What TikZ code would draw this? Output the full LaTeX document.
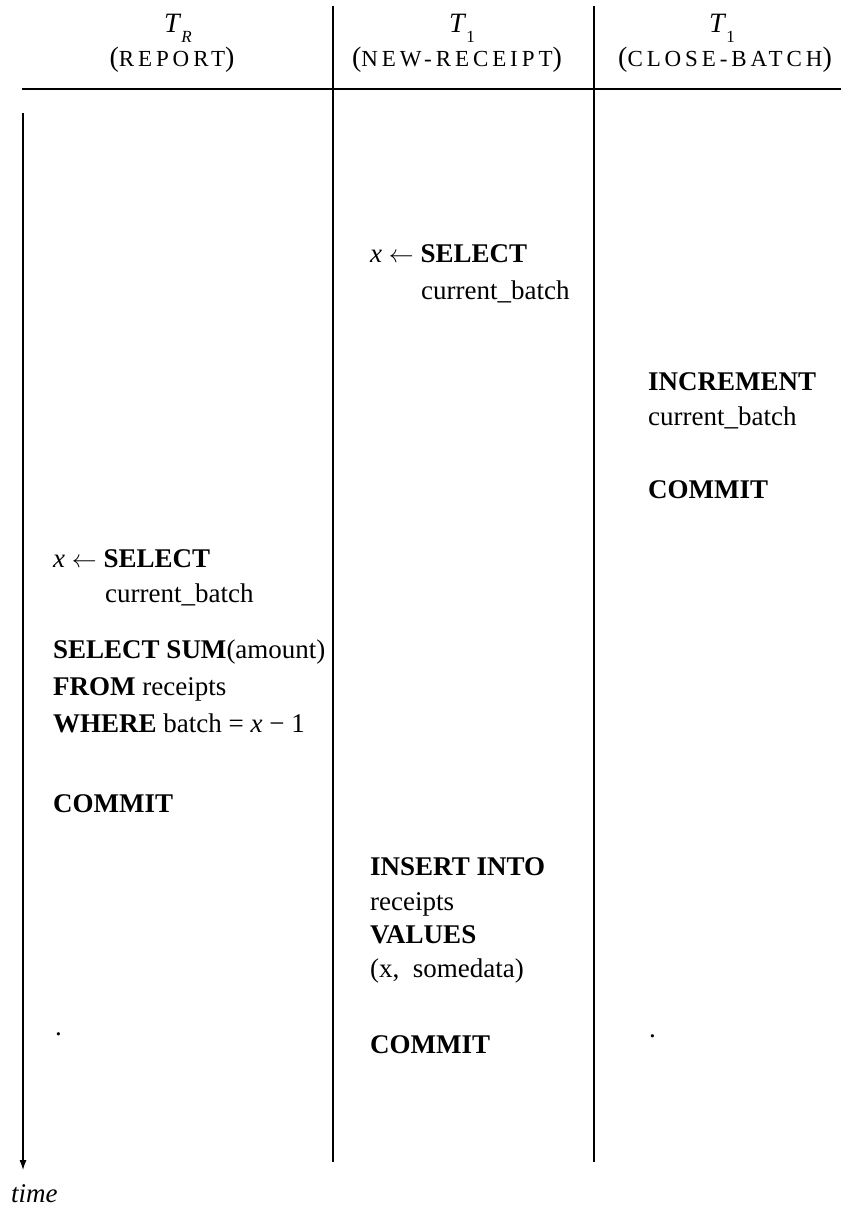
\documentclass[tikz,border=0pt]{standalone}
\usepackage{fontspec}
\setmainfont{Liberation Serif}
\usetikzlibrary{arrows.meta}
\newfontfamily\scfont[LetterSpace=17]{Liberation Serif}
\newcommand\fsc[1]{{\fontsize{23}{23}\scfont #1}}
\newcommand\kw[1]{\textbf{#1}}
\newcommand\getsarrow{\ensuremath{\leftarrow}}
\begin{document}
\begin{tikzpicture}[x=1pt,y=-1pt,
  txt/.style={anchor=base west,inner sep=0pt,font=\fontsize{27}{34}\selectfont},
  hdr/.style={anchor=base,inner sep=0pt,font=\fontsize{28}{34}\selectfont},
  rulel/.style={line width=1.1pt}]
\useasboundingbox (0,0) rectangle (841,1214);
% frame lines
\coordinate (r0) at (22,89);
\coordinate (r1) at (841,89);
\coordinate (s1t) at (333,6);
\coordinate (s1b) at (333,1162);
\coordinate (s2t) at (594,6);
\coordinate (s2b) at (594,1162);
\coordinate (tt) at (23,113);
\coordinate (tb) at (23,1170);
\draw[rulel] (r0) -- (r1);
\draw[rulel] (s1t) -- (s1b);
\draw[rulel] (s2t) -- (s2b);
\draw[rulel,-{Latex[length=10pt,width=7pt]}] (tt) -- (tb);
\node[txt,font=\fontsize{27}{34}\selectfont\itshape] (time) at (11,1202) {time};
% header
\node[hdr] (h1a) at (178,33) {\textit{T}\raisebox{-10pt}{\fontsize{17}{17}\selectfont\textit{R}}};
\node[hdr] (h1b) at (172,67) {(\fsc{REPORT})};
\node[hdr] (h2a) at (462,33) {\textit{T}\raisebox{-10pt}{\fontsize{17}{17}\selectfont 1}};
\node[hdr] (h2b) at (457,67) {(\fsc{NEW-RECEIPT})};
\node[hdr] (h3a) at (722,33) {\textit{T}\raisebox{-10pt}{\fontsize{17}{17}\selectfont 1}};
\node[hdr] (h3b) at (725,67) {(\fsc{CLOSE-BATCH})};
% column 2 (new-receipt), first part
\node[txt] (b1) at (370,263) {\textit{x} \getsarrow\ \kw{SELECT}};
\node[txt] (b2) at (421,300) {current\_batch};
% column 3 (close-batch)
\node[txt] (c1) at (648,390) {\kw{INCREMENT}};
\node[txt] (c2) at (648,425) {current\_batch};
\node[txt] (c3) at (648,498) {\kw{COMMIT}};
% column 1 (report)
\node[txt] (a1) at (53,567) {\textit{x} \getsarrow\ \kw{SELECT}};
\node[txt] (a2) at (105,602) {current\_batch};
\node[txt] (a3) at (53,658) {\kw{SELECT SUM}(amount)};
\node[txt] (a4) at (53,695) {\kw{FROM} receipts};
\node[txt] (a5) at (53,732) {\kw{WHERE} batch = \textit{x} − 1};
\node[txt] (a6) at (53,812) {\kw{COMMIT}};
% column 2, second part
\node[txt] (b3) at (370,875) {\kw{INSERT INTO}};
\node[txt] (b4) at (370,910) {receipts};
\node[txt] (b5) at (370,943) {\kw{VALUES}};
\node[txt] (b6) at (370,977) {(x,\ \ somedata)};
\node[txt] (b7) at (370,1053) {\kw{COMMIT}};
% dots
\node[txt] (d1) at (55,1035) {.};
\node[txt] (d3) at (649,1037) {.};
\end{tikzpicture}
\end{document}
